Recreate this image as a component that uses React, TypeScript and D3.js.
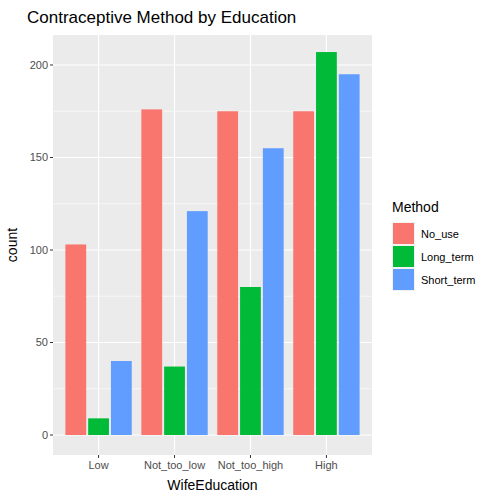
import * as d3 from 'd3'

const categories = ['Low', 'Not_too_low', 'Not_too_high', 'High']
const methods = ['No_use', 'Long_term', 'Short_term']
const colors = ['#F8766D', '#00BA38', '#619CFF']
const noUse = [103, 176, 175, 175]
const longTerm = [9, 37, 80, 207]
const shortTerm = [40, 121, 155, 195]
const yTicks = [0, 50, 100, 150, 200]

export default function App() {
  const series = [noUse, longTerm, shortTerm]
  const left = 53, right = 372, top = 35, bottom = 455
  const x = d3.scaleLinear().domain([0.4, 4.6]).range([left, right])
  const y = d3.scaleLinear().domain([0, 200]).range([435, 65])
  const minor = [25, 75, 125, 175]
  const bw = 0.9 / 3
  return (
    <svg width={500} height={500} style={{ position: 'absolute', left: 0, top: 0, fontFamily: 'Arial, Liberation Sans, sans-serif' }}>
      <rect width={500} height={500} fill="#fff" />
      <rect x={left} y={top} width={right - left} height={bottom - top} fill="#EBEBEB" />
      {minor.map(v => <line key={'m' + v} x1={left} x2={right} y1={y(v)} y2={y(v)} stroke="#fff" strokeWidth={0.6} />)}
      {yTicks.map(v => <line key={v} x1={left} x2={right} y1={y(v)} y2={y(v)} stroke="#fff" strokeWidth={1.2} />)}
      {categories.map((c, i) => <line key={c} x1={x(i + 1)} x2={x(i + 1)} y1={top} y2={bottom} stroke="#fff" strokeWidth={1.2} />)}
      {categories.map((c, i) => series.map((s, j) => {
        const x0 = i + 1 - 0.45 + j * bw
        return <rect key={c + j} x={x(x0) + 1} width={x(x0 + bw) - x(x0) - 2} y={y(s[i])} height={y(0) - y(s[i])} fill={colors[j]} />
      }))}
      {yTicks.map(v => (
        <g key={'t' + v}>
          <line x1={left - 3} x2={left} y1={y(v)} y2={y(v)} stroke="#333" />
          <text x={left - 5} y={y(v)} dy="0.35em" textAnchor="end" fontSize={11} fill="#4D4D4D">{v}</text>
        </g>
      ))}
      {categories.map((c, i) => (
        <g key={'x' + c}>
          <line x1={x(i + 1)} x2={x(i + 1)} y1={bottom} y2={bottom + 3} stroke="#333" />
          <text x={x(i + 1)} y={bottom + 14} textAnchor="middle" fontSize={11} fill="#4D4D4D">{c}</text>
        </g>
      ))}
      <text x={(left + right) / 2} y={490} textAnchor="middle" fontSize={14}>WifeEducation</text>
      <text transform={`translate(17,${(top + bottom) / 2}) rotate(-90)`} textAnchor="middle" fontSize={14}>count</text>
      <text x={27} y={23} fontSize={17}>Contraceptive Method by Education</text>
      <text x={392} y={212} fontSize={14}>Method</text>
      {methods.map((m, j) => (
        <g key={m} transform={`translate(392,${222 + j * 23})`}>
          <rect width={23} height={23} fill="#F2F2F2" />
          <rect x={1} y={1} width={21} height={21} fill={colors[j]} />
          <text x={29} y={12} dy="0.35em" fontSize={11}>{m}</text>
        </g>
      ))}
    </svg>
  )
}
